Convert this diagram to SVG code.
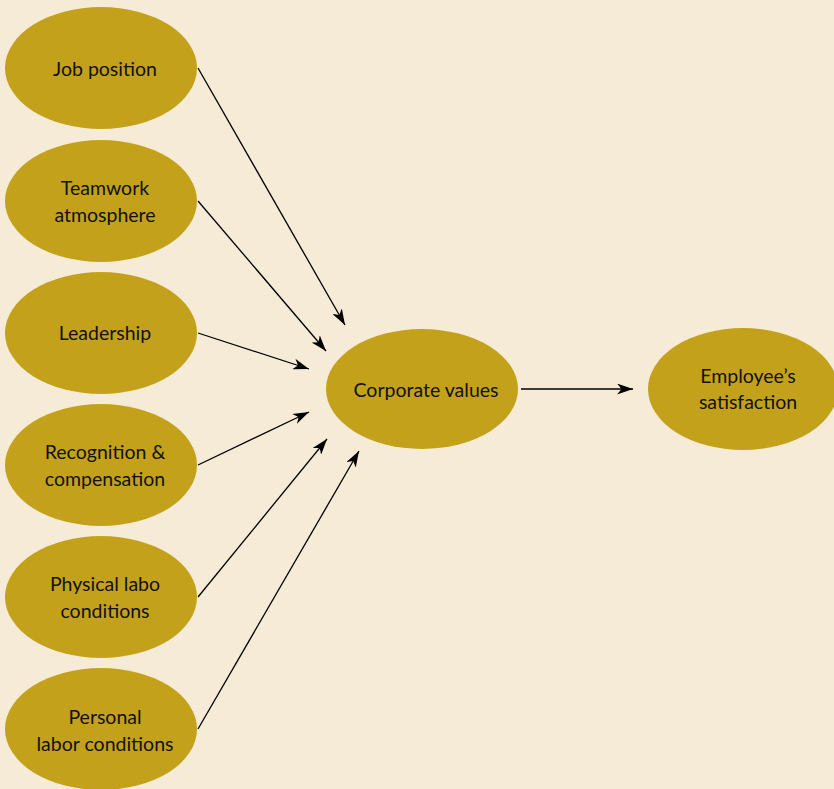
<svg xmlns="http://www.w3.org/2000/svg" width="834" height="789" viewBox="0 0 834 789">
<defs>
<style>
.n{fill:#C4A11A;}
.t{font-family:Lato,"Noto Sans",sans-serif;font-size:19.5px;fill:#111;text-anchor:middle;}
.c{stroke:#000;stroke-width:1.3;fill:none;marker-end:url(#ah);}
</style>
<marker id="ah" viewBox="0 0 16 11" refX="16" refY="5.5" markerWidth="16" markerHeight="11" markerUnits="userSpaceOnUse" orient="auto">
<path d="M0,0 L16,5.5 L0,11 L4.5,5.5 z" fill="#000"/>
</marker>
</defs>
<rect width="834" height="789" fill="#F5EBD7"/>
<g id="connectors">
<line class="c" x1="198" y1="68" x2="345" y2="325"/>
<line class="c" x1="198" y1="201" x2="326" y2="351"/>
<line class="c" x1="198" y1="333" x2="309" y2="369"/>
<line class="c" x1="198" y1="465" x2="309" y2="412"/>
<line class="c" x1="198" y1="597" x2="327" y2="439"/>
<line class="c" x1="198" y1="729" x2="359" y2="451"/>
<line class="c" x1="521" y1="389" x2="633" y2="389"/>
</g>
<g id="job"><ellipse class="n" cx="101" cy="68" rx="96" ry="61"/><text class="t" x="105" y="76">Job position</text></g>
<g id="teamwork"><ellipse class="n" cx="101" cy="201" rx="96" ry="61"/><text class="t" x="105" y="195">Teamwork</text><text class="t" x="105" y="222">atmosphere</text></g>
<g id="leadership"><ellipse class="n" cx="101" cy="333" rx="96" ry="61"/><text class="t" x="105" y="340">Leadership</text></g>
<g id="recognition"><ellipse class="n" cx="101" cy="465" rx="96" ry="61"/><text class="t" x="105" y="459">Recognition &amp;</text><text class="t" x="105" y="486">compensation</text></g>
<g id="physical"><ellipse class="n" cx="101" cy="597" rx="96" ry="61"/><text class="t" x="105" y="591">Physical labo</text><text class="t" x="105" y="618">conditions</text></g>
<g id="personal"><ellipse class="n" cx="101" cy="729" rx="96" ry="61"/><text class="t" x="105" y="724">Personal</text><text class="t" x="105" y="751">labor conditions</text></g>
<g id="corporate"><ellipse class="n" cx="422" cy="389" rx="96" ry="60"/><text class="t" x="426" y="397">Corporate values</text></g>
<g id="employee"><ellipse class="n" cx="743" cy="389" rx="95" ry="61"/><text class="t" x="748" y="383">Employee’s</text><text class="t" x="748" y="409">satisfaction</text></g>
</svg>
